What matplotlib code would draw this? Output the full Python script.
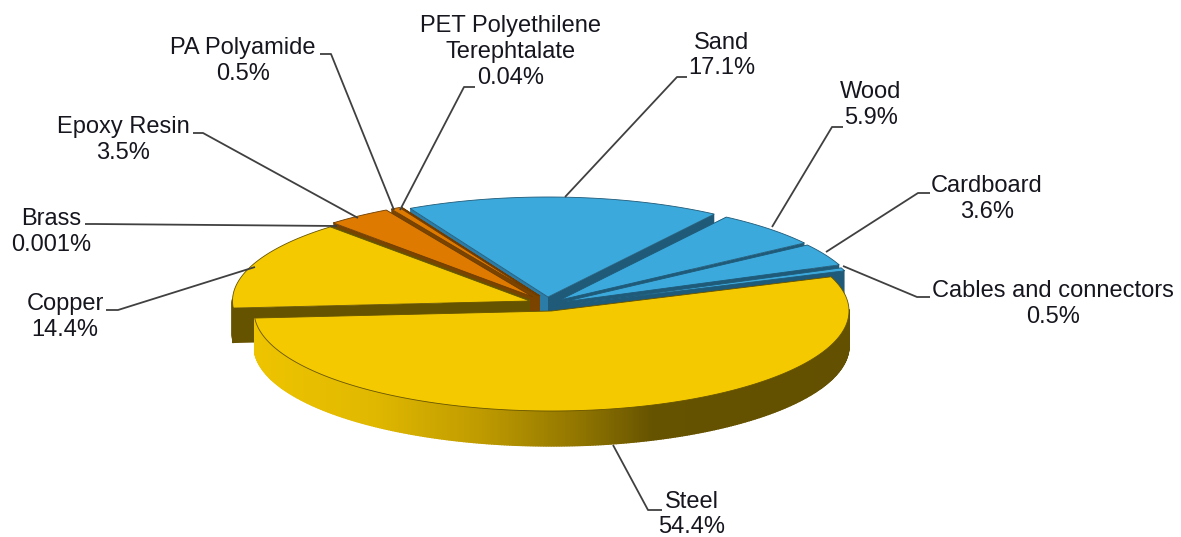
import numpy as np
import matplotlib
matplotlib.use("Agg")
import matplotlib.pyplot as plt
from matplotlib.colors import LinearSegmentedColormap
from matplotlib.patches import Polygon

names = ["Steel", "Copper", "Brass", "Epoxy Resin", "PA Polyamide",
         "PET Polyethilene\nTerephtalate", "Sand", "Wood", "Cardboard",
         "Cables and connectors"]
values = [54.4, 14.4, 0.001, 3.5, 0.5, 0.04, 17.1, 5.9, 3.6, 0.5]
labels = ["54.4%", "14.4%", "0.001%", "3.5%", "0.5%", "0.04%", "17.1%", "5.9%", "3.6%", "0.5%"]

plt.rcParams["font.family"] = ["Liberation Sans", "DejaVu Sans"]

# ellipse size and slice centres, in pixels of the original
A, B, THICK = 297.5, 100, 35
START = 20
centers = [(551.5, 311), (530, 301), (530, 300), (533, 297), (538, 296),
           (540, 296), (548, 297), (560, 300), (563, 302), (565, 305)]
YEL, ORG, BLU = "#F4C900", "#DE7A00", "#3CA9DC"
tops = [YEL, YEL, YEL, ORG, ORG, ORG, BLU, BLU, BLU, BLU]
darks = ["#665300", "#665300", "#665300", "#6E3C00", "#6E3C00", "#6E3C00", "#1F5A78", "#1F5A78", "#1F5A78", "#1F5A78"]
faces = ["#665300", "#665300", "#665300", "#7A4400", "#7A4400", "#7A4400", "#2B7CA6", "#1F5A78", "#1F5A78", "#1F5A78"]
# back slices first, steel last
order = [6, 7, 8, 9, 5, 4, 3, 2, 1, 0]

rim_cmap = LinearSegmentedColormap.from_list("rim", [(0, "#EEC400"), (0.2, "#E0B800"), (0.38, "#BF9B00"),
                                                     (0.55, "#8F7400"), (0.67, "#665300"), (1, "#635000")])

# leader lines, label to slice, and where the label sits
leaders = [[(662, 510), (648, 510), (613, 445)],
           [(106, 310), (118, 310), (255, 267)],
           [(85, 224), (95, 224), (337, 226)],
           [(193, 133), (203, 133), (358, 218)],
           [(320, 54), (331, 54), (394, 210)],
           [(475, 87), (464, 87), (400, 210)],
           [(687, 77), (677, 77), (565, 197)],
           [(843, 127), (832, 127), (772, 227)],
           [(930, 193), (918, 193), (826, 252)],
           [(930, 297), (917, 297), (843, 266)]]
label_pos = [(692, 514.5), (65, 317), (51, 232), (123, 140), (243, 61),
             (511, 52), (722, 55.5), (871, 105), (987, 199), (1053, 304)]

fig = plt.figure(figsize=(11.81, 5.37), dpi=100)
ax = fig.add_axes([0, 0, 1, 1])
ax.set_xlim(0, 1181)
ax.set_ylim(537, 0)
ax.axis("off")

sweep = np.array(values) / sum(values) * 360
ends = START - np.cumsum(sweep)
starts = ends + sweep


def pt(c, t, dy=0):
    r = np.radians(t)
    return (c[0] + A * np.cos(r), c[1] - B * np.sin(r) + dy)


z = 2
for i in order:
    c = centers[i]
    t0, t1 = starts[i], ends[i]
    # cut faces
    ax.add_patch(Polygon([pt(c, t1), c, (c[0], c[1] + THICK), pt(c, t1, THICK)], fc=darks[i], ec="none", zorder=z))
    ax.add_patch(Polygon([pt(c, t0), c, (c[0], c[1] + THICK), pt(c, t0, THICK)], fc=faces[i], ec="none", zorder=z))
    # outer rim, only the part that faces the viewer
    ts = np.linspace(t0, t1, max(int(abs(t0 - t1) * 2), 2))
    for a, b in zip(ts[:-1], ts[1:]):
        m = np.radians((a + b) / 2)
        if np.sin(m) > 0.02:
            continue
        col = darks[i]
        if i == 0:
            col = rim_cmap((np.cos(m) + 1) / 2)
        ax.add_patch(Polygon([pt(c, a), pt(c, b), pt(c, b, THICK), pt(c, a, THICK)], fc=col, ec=col, lw=1.0, zorder=z))
    # top
    arc = [pt(c, t) for t in np.linspace(t0, t1, 200)]
    ax.add_patch(Polygon([c] + arc, fc=tops[i], ec=darks[i], lw=0.6, zorder=z + 0.5))
    z += 1

for line in leaders:
    xs, ys = zip(*line)
    ax.plot(xs, ys, color="#404040", lw=1.3, zorder=30, solid_capstyle="butt")

for name, lab, (x, y) in zip(names, labels, label_pos):
    ax.text(x, y, name + "\n" + lab, ha="center", va="center", fontsize=17, color="#16161f", linespacing=1.21, zorder=31)

fig.savefig("out.png", dpi=100)
